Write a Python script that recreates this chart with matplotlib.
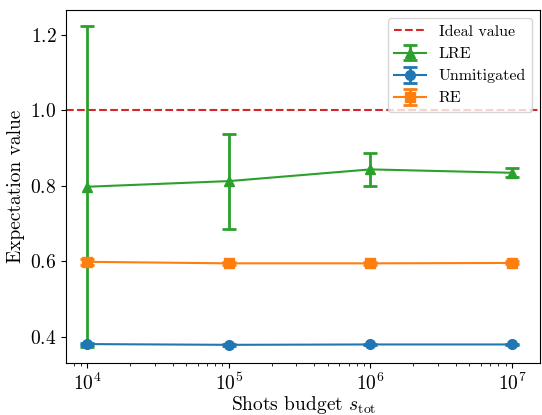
import matplotlib
matplotlib.use("Agg")
import matplotlib.pyplot as plt

plt.rcParams["font.family"] = "serif"
plt.rcParams["font.serif"] = ["cmr10"]
plt.rcParams["mathtext.fontset"] = "cm"
plt.rcParams["axes.formatter.use_mathtext"] = True
plt.rcParams["axes.unicode_minus"] = False

# Data
shots = [1e4, 1e5, 1e6, 1e7]
lre = [0.797, 0.812, 0.843, 0.834]
lre_err = [0.425, 0.126, 0.044, 0.012]
unmit = [0.380, 0.378, 0.379, 0.379]
unmit_err = [0.003, 0.002, 0.002, 0.002]
re = [0.598, 0.594, 0.594, 0.595]
re_err = [0.008, 0.004, 0.004, 0.004]
ideal = 1.0

fig, ax = plt.subplots(figsize=(5.42, 4.15), dpi=100)

ax.axhline(ideal, color="tab:red", linestyle="--", linewidth=1.5, label="Ideal value")
ax.errorbar(shots, lre, yerr=lre_err, color="tab:green", marker="^", markersize=7,
            capsize=5, elinewidth=2, capthick=2, linewidth=1.5, label="LRE")
ax.errorbar(shots, unmit, yerr=unmit_err, color="tab:blue", marker="o", markersize=7,
            capsize=5, elinewidth=2, capthick=2, linewidth=1.5, label="Unmitigated")
ax.errorbar(shots, re, yerr=re_err, color="tab:orange", marker="s", markersize=7,
            capsize=5, elinewidth=2, capthick=2, linewidth=1.5, label="RE")

ax.set_xscale("log")
ax.set_xlim(10 ** 3.85, 10 ** 7.2)
ax.set_xlabel(r"Shots budget $s_{\mathrm{tot}}$", fontsize=14, labelpad=0)
ax.set_ylabel("Expectation value", fontsize=14)
ax.tick_params(labelsize=14)

ax.legend(loc="upper right", fontsize=11.5, framealpha=0.8)

fig.subplots_adjust(left=0.122, right=0.997, top=0.975, bottom=0.125)
fig.savefig("out.png", dpi=100)
